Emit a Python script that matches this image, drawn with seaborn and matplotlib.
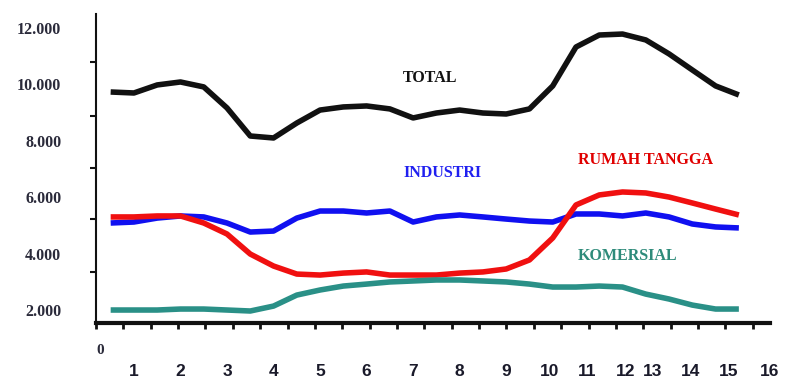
import numpy as np
import pandas as pd
import matplotlib
matplotlib.use("Agg")
import matplotlib.pyplot as plt
import seaborn as sns

# positions along the x axis (half-step samples)
x_pos = [0.5, 1.0, 1.5, 2.0, 2.5, 3.0, 3.5, 4.0, 4.5, 5.0, 5.5, 6.0, 6.5, 7.0,
         7.5, 8.0, 8.5, 9.0, 9.5, 10.0, 10.5, 11.0, 11.5, 12.0, 12.5, 13.0, 13.5, 14.0]

total = [9730, 9695, 9980, 10085, 9910, 9165, 8170, 8100, 8630, 9090, 9200, 9235, 9130, 8810,
         8985, 9090, 8985, 8950, 9130, 9945, 11325, 11750, 11785, 11575, 11080, 10510, 9945, 9625]
industri = [5085, 5120, 5260, 5335, 5300, 5085, 4765, 4800, 5260, 5510, 5510, 5440, 5510, 5120,
            5300, 5370, 5300, 5225, 5155, 5120, 5405, 5405, 5335, 5440, 5300, 5050, 4945, 4910]
rumah_tangga = [5300, 5300, 5335, 5335, 5085, 4695, 3985, 3560, 3275, 3240, 3310, 3350, 3240, 3240,
                3240, 3310, 3350, 3455, 3775, 4555, 5725, 6080, 6185, 6150, 6005, 5795, 5580, 5370]
komersial = [2000, 2000, 2000, 2035, 2035, 2000, 1965, 2140, 2530, 2710, 2850, 2920, 2995, 3030,
             3065, 3065, 3030, 2995, 2920, 2815, 2815, 2850, 2815, 2565, 2390, 2175, 2035, 2035]

series_names = ["TOTAL", "INDUSTRI", "RUMAH TANGGA", "KOMERSIAL"]
series_colors = ["#111111", "#1010f0", "#f01010", "#2a9087"]

y_ticks = [2000, 4000, 6000, 8000, 10000, 12000]
y_labels = ["2.000", "4.000", "6.000", "8.000", "10.000", "12.000"]
y_marks = [3358, 5227, 7046, 8890, 10784]

x_label_pos = [1, 2, 3, 4, 5, 6, 7, 8, 9, 9.93, 10.73, 11.57, 12.14, 12.97, 13.79, 14.67]
x_labels = [str(i) for i in range(1, 17)]

df = pd.DataFrame({
    "x": x_pos * 4,
    "value": total + industri + rumah_tangga + komersial,
    "series": np.repeat(series_names, len(x_pos)),
})

sns.set_style("white")
fig = plt.figure(figsize=(7.95, 3.84), dpi=100)
ax = fig.add_axes([0.1208, 0.1596, 0.8478, 0.804])

sns.lineplot(data=df, x="x", y="value", hue="series", hue_order=series_names,
             palette=series_colors, linewidth=4, legend=False, ax=ax,
             solid_capstyle="butt", solid_joinstyle="round")

ax.set_xlim(0.2065, 14.337)
ax.set_ylim(1550, 12496)
ax.set_xlabel("")
ax.set_ylabel("")

for s in ["top", "right"]:
    ax.spines[s].set_visible(False)
ax.spines["left"].set_linewidth(1.5)
ax.spines["left"].set_color("#111111")
ax.spines["bottom"].set_linewidth(3)
ax.spines["bottom"].set_color("#111111")

serif = {"family": "Liberation Serif", "weight": "bold"}

ax.set_yticks(y_ticks, y_labels)
ax.set_yticks(y_marks, minor=True)
for lab in ax.get_yticklabels():
    lab.set_fontproperties({**serif, "size": 11.5})
    lab.set_color("#2a2a3a")
ax.tick_params(axis="y", which="both", left=True)
ax.tick_params(axis="y", which="major", length=0, pad=25)
ax.tick_params(axis="y", which="minor", length=4.5, width=1.5, color="#111111")

x_marks = [0.5 + (95 + k * 28.05 - 110) / 47.7 for k in range(25)]
ax.set_xticks(x_label_pos, x_labels)
ax.set_xticks(x_marks, minor=True)
for lab in ax.get_xticklabels():
    lab.set_fontproperties({"family": "Liberation Sans", "weight": "bold", "size": 12.5})
    lab.set_color("#1a1a2a")
ax.tick_params(axis="x", which="both", bottom=True)
ax.tick_params(axis="x", which="major", length=0, pad=30)
ax.tick_params(axis="x", which="minor", length=4, width=2, color="#111111")

fig.text(100 / 795, 1 - 350 / 384, "0", ha="center", va="center",
         fontsize=11, color="#2a2a3a", **serif)

label_spots = [(7.355, 10227), (7.63, 6858), (11.99, 7319), (11.61, 3915)]
text_colors = ["#111111", "#2020f0", "#e00000", "#2e8b7a"]
for name, (lx, ly), c in zip(series_names, label_spots, text_colors):
    ax.text(lx, ly, name, ha="center", va="center", fontsize=11.5, color=c, **serif)

fig.savefig("out.png", dpi=100)
